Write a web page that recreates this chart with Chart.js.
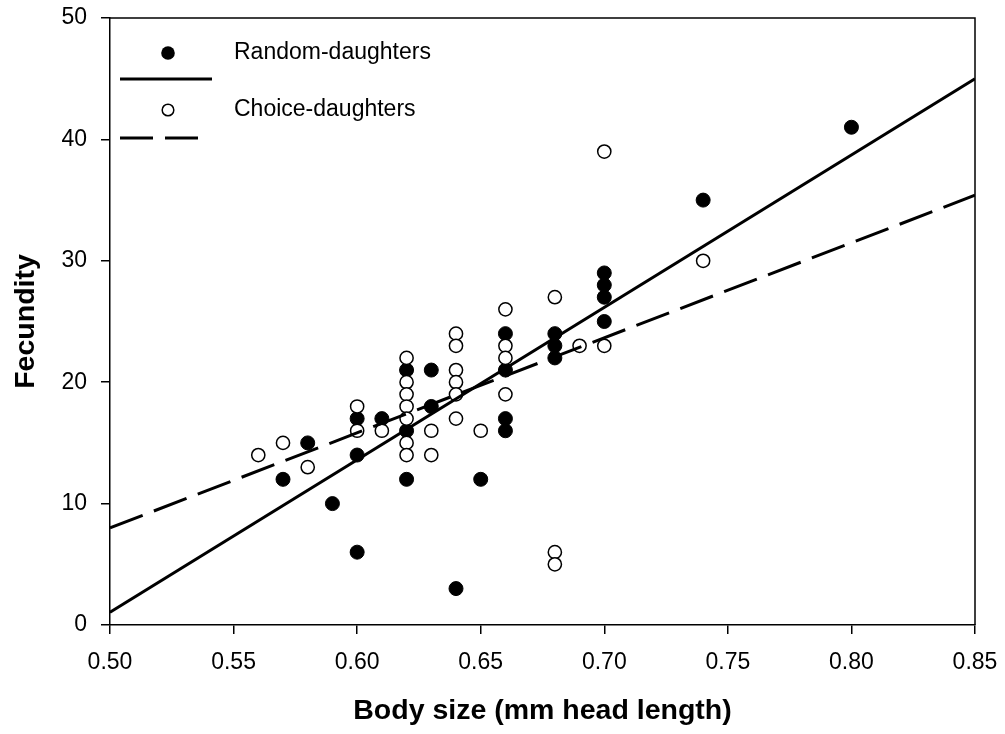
<!DOCTYPE html>
<html><head><meta charset="utf-8">
<script src="https://cdn.jsdelivr.net/npm/chart.js@4.4.0/dist/chart.umd.min.js"></script>
<style>html,body{margin:0;padding:0;background:#fff;}</style>
</head><body>
<canvas id="c" width="1005" height="734"></canvas>
<script>
const seriesNames = ['Random-daughters', 'Choice-daughters'];
const randomX = [0.57,0.58,0.59,0.60,0.60,0.60,0.61,0.62,0.62,0.62,0.63,0.63,0.64,0.65,0.66,0.66,0.66,0.66,0.68,0.68,0.68,0.70,0.70,0.70,0.70,0.74,0.80];
const randomY = [12,15,10,17,14,6,17,21,16,12,21,18,3,12,24,21,17,16,24,23,22,29,28,27,25,35,41];
const choiceX = [0.56,0.57,0.58,0.60,0.60,0.61,0.62,0.62,0.62,0.62,0.62,0.62,0.62,0.63,0.63,0.64,0.64,0.64,0.64,0.64,0.64,0.65,0.66,0.66,0.66,0.66,0.68,0.68,0.68,0.69,0.70,0.70,0.74];
const choiceY = [14,15,13,18,16,16,22,20,19,18,17,15,14,16,14,24,23,21,20,19,17,16,26,23,22,19,27,6,5,23,39,23,30];
const fitX = [0.50, 0.85];
const randomFitY = [1.05, 45.0];
const choiceFitY = [8.0, 35.4];
const xTicks = [0.50,0.55,0.60,0.65,0.70,0.75,0.80,0.85];
const yTicks = [0,10,20,30,40,50];
const xTitle = 'Body size (mm head length)';
const yTitle = 'Fecundity';

const FONT = "'Liberation Sans', Arial, sans-serif";
const pts = (xs, ys) => xs.map((x, i) => ({x, y: ys[i]}));

const framePlugin = {
  id: 'frame',
  afterDraw(chart) {
    const {ctx, chartArea: a} = chart;
    ctx.save();
    ctx.strokeStyle = '#000';
    ctx.lineWidth = 1.5;
    ctx.beginPath();
    ctx.moveTo(a.left, a.top); ctx.lineTo(a.right, a.top); ctx.lineTo(a.right, a.bottom);
    ctx.stroke();
    // legend
    ctx.fillStyle = '#000';
    ctx.beginPath(); ctx.arc(168, 53, 6.8, 0, Math.PI * 2); ctx.fill();
    ctx.font = '23px ' + FONT;
    ctx.textAlign = 'left'; ctx.textBaseline = 'middle';
    ctx.fillText(seriesNames[0], 234, 53);
    ctx.lineWidth = 3;
    ctx.beginPath(); ctx.moveTo(120, 79); ctx.lineTo(212, 79); ctx.stroke();
    ctx.lineWidth = 1.5;
    ctx.fillStyle = '#fff';
    ctx.beginPath(); ctx.arc(168, 110, 5.8, 0, Math.PI * 2); ctx.fill(); ctx.stroke();
    ctx.fillStyle = '#000';
    ctx.fillText(seriesNames[1], 234, 110);
    ctx.lineWidth = 3;
    ctx.setLineDash([33, 12]);
    ctx.beginPath(); ctx.moveTo(120, 138); ctx.lineTo(198, 138); ctx.stroke();
    ctx.restore();
  }
};

new Chart(document.getElementById('c'), {
  type: 'scatter',
  data: {
    datasets: [
      { label: seriesNames[0] + ' fit', type: 'line', data: pts(fitX, randomFitY), showLine: true,
        borderColor: '#000', borderWidth: 3, pointRadius: 0, fill: false, order: 0 },
      { label: seriesNames[1] + ' fit', type: 'line', data: pts(fitX, choiceFitY), showLine: true,
        borderColor: '#000', borderWidth: 3, borderDash: [35, 12], pointRadius: 0, fill: false, order: 0 },
      { label: seriesNames[0], data: pts(randomX, randomY), pointStyle: 'circle', pointRadius: 7,
        backgroundColor: '#000', borderColor: '#000', borderWidth: 1, order: 2 },
      { label: seriesNames[1], data: pts(choiceX, choiceY), pointStyle: 'circle', pointRadius: 6.6,
        backgroundColor: '#fff', borderColor: '#000', borderWidth: 1.5, order: 1 }
    ]
  },
  options: {
    responsive: false, animation: false, devicePixelRatio: 1,
    layout: { padding: { top: 18, right: 30, left: 0, bottom: 0 } },
    plugins: { legend: { display: false }, tooltip: { enabled: false } },
    scales: {
      x: {
        type: 'linear', min: 0.5, max: 0.85,
        afterBuildTicks: s => { s.ticks = xTicks.map(v => ({value: v})); },
        afterFit: s => { s.height = 109; s.paddingLeft = 0; s.paddingRight = 0; },
        ticks: { color: '#000', font: { family: FONT, size: 23 }, padding: 15,
                 callback: v => v.toFixed(2), maxRotation: 0, autoSkip: false },
        grid: { drawOnChartArea: false, drawTicks: true, tickLength: 9, color: '#000', lineWidth: 1.5 },
        border: { display: true, color: '#000', width: 1.5 },
        title: { display: true, text: xTitle, color: '#000', font: { family: FONT, size: 28.5, weight: 'bold' },
                 padding: { top: 0, bottom: 6 } }
      },
      y: {
        type: 'linear', min: 0, max: 50,
        afterBuildTicks: s => { s.ticks = yTicks.map(v => ({value: v})); },
        afterFit: s => { s.width = 110; s.paddingTop = 0; s.paddingBottom = 0; },
        ticks: { color: '#000', font: { family: FONT, size: 23 }, padding: 14, autoSkip: false },
        grid: { drawOnChartArea: false, drawTicks: true, tickLength: 9, color: '#000', lineWidth: 1.5 },
        border: { display: true, color: '#000', width: 1.5 },
        title: { display: true, text: yTitle, color: '#000', font: { family: FONT, size: 28.5, weight: 'bold' },
                 padding: { top: 9, bottom: 0 } }
      }
    }
  },
  plugins: [framePlugin]
});
</script>
</body></html>
